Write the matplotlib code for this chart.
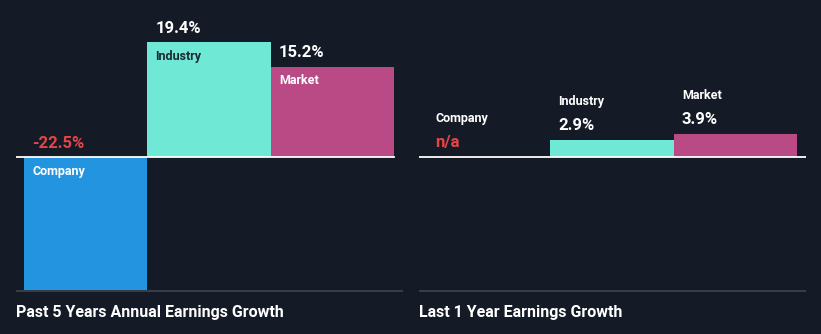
import matplotlib.pyplot as plt

plt.rcParams['font.family'] = ['Roboto', 'DejaVu Sans']

categories = ["Company", "Industry", "Market"]
past5_values = [-22.5, 19.4, 15.2]
past5_labels = ["-22.5%", "19.4%", "15.2%"]
last1_values = [0.0, 2.9, 3.9]
last1_labels = ["n/a", "2.9%", "3.9%"]
titles = ["Past 5 Years Annual Earnings Growth", "Last 1 Year Earnings Growth"]

bg = "#151b26"
bar_colors = ["#2394df", "#6fe8d5", "#b94a86"]
name_colors = ["white", "#1d2a33", "white"]
red = "#e64545"

W, H = 821, 334
fig = plt.figure(figsize=(W / 100, H / 100), dpi=100)
fig.patch.set_facecolor(bg)

ymax, ymin = 26.5, -22.8
xlo, xhi = -0.565, 2.57


def make_ax(left_px):
    ax = fig.add_axes([left_px / W, (H - 292) / H, 387 / W, 292 / H])
    ax.set_facecolor(bg)
    ax.set_xlim(xlo, xhi)
    ax.set_ylim(ymin, ymax)
    ax.axis("off")
    return ax


# left panel
ax1 = make_ax(16)
x = range(len(categories))
ax1.bar(x, past5_values, width=1.0, color=bar_colors, edgecolor="none")
ax1.plot([xlo, 2.5], [0, 0], color="white", lw=1.3)
ax1.plot([xlo, xhi], [ymin + 0.1, ymin + 0.1], color="#3e4450", lw=1.2)
for i, (v, lab) in enumerate(zip(past5_values, past5_labels)):
    top = max(v, 0)
    vcol = red if v < 0 else "white"
    ax1.annotate(lab, (i - 0.5, top), xytext=(8, 14 if v > 0 else 13),
                 textcoords="offset pixels", va="center", ha="left",
                 color=vcol, fontsize=12, fontweight="bold")
    ax1.annotate(categories[i], (i - 0.5, top), xytext=(8, -14 if v > 0 else -15),
                 textcoords="offset pixels", va="center", ha="left",
                 color=name_colors[i], fontsize=9, fontweight="bold")
fig.text(16 / W, 1 - 312 / H, titles[0], color="white", fontsize=11.5,
         fontweight="bold", va="center", ha="left")

# right panel
ax2 = make_ax(419)
ax2.bar(x, last1_values, width=1.0, color=bar_colors, edgecolor="none")
ax2.plot([xlo, xhi], [0, 0], color="white", lw=1.3)
ax2.plot([xlo, xhi], [ymin + 0.1, ymin + 0.1], color="#3e4450", lw=1.2)
for i, (v, lab) in enumerate(zip(last1_values, last1_labels)):
    vcol = red if lab == "n/a" else "white"
    ax2.annotate(lab, (i - 0.5, v), xytext=(8, 14),
                 textcoords="offset pixels", va="center", ha="left",
                 color=vcol, fontsize=12, fontweight="bold")
    ax2.annotate(categories[i], (i - 0.5, v), xytext=(8, 38),
                 textcoords="offset pixels", va="center", ha="left",
                 color="white", fontsize=9, fontweight="bold")
fig.text(419 / W, 1 - 312 / H, titles[1], color="white", fontsize=11.5,
         fontweight="bold", va="center", ha="left")

fig.savefig("out.png", dpi=100, facecolor=bg)
